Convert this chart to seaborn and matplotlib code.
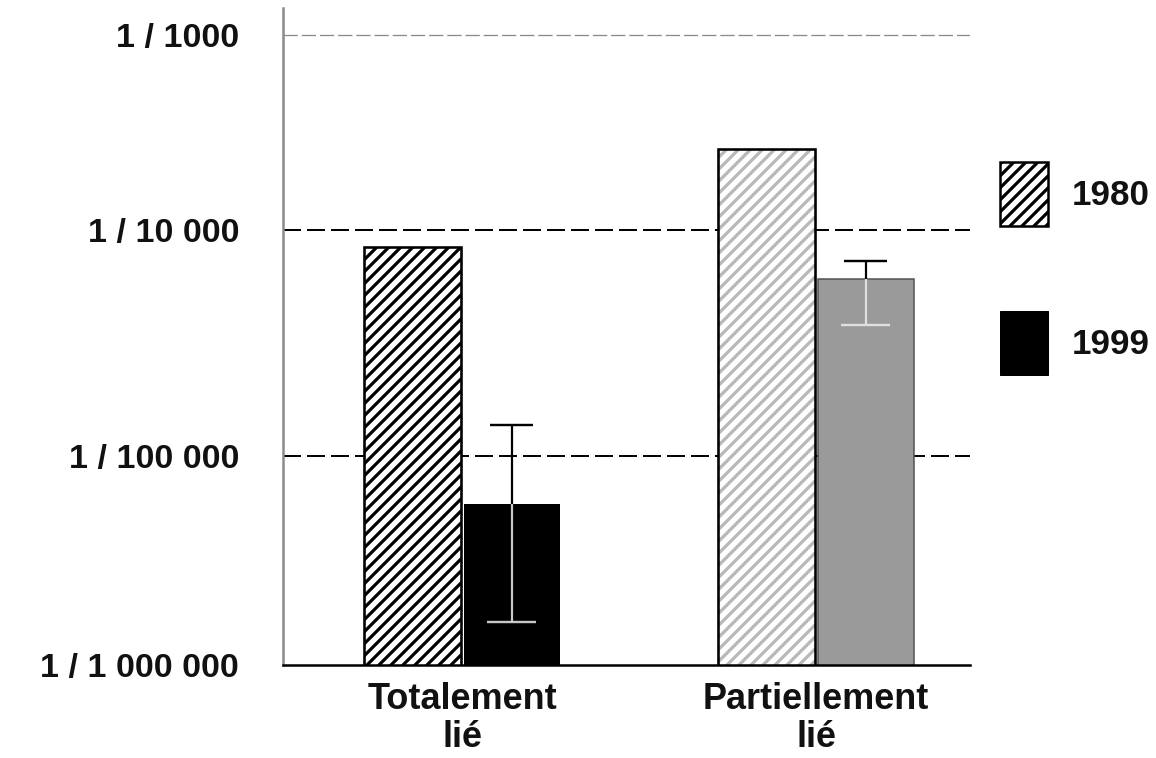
import numpy as np
import pandas as pd
import matplotlib
matplotlib.use("Agg")
import matplotlib.pyplot as plt
import seaborn as sns
from matplotlib.patches import Rectangle, Patch

# Incidence data
categories = ["Totalement\nlié", "Partiellement\nlié"]
years = ["1980", "1999"]
rate_1980 = [8.4e-5, 2.6e-4]
rate_1999 = [5.9e-6, 6.1e-5]
low_1999 = [1.6e-6, 3.8e-5]
high_1999 = [1.37e-5, 7.3e-5]
tick_values = [1e-6, 1e-5, 1e-4, 1e-3]
tick_labels = ["1 / 1 000 000", "1 / 100 000", "1 / 10 000", "1 / 1000"]

sns.set_theme(style="white")
plt.rcParams["font.family"] = ["Liberation Sans", "DejaVu Sans"]
plt.rcParams["font.weight"] = "bold"
plt.rcParams["text.color"] = "#111111"
plt.rcParams["hatch.linewidth"] = 3.2

HATCH_LW = 3.2

df = pd.DataFrame({
    "cat": categories * 2,
    "year": [years[0]] * len(categories) + [years[1]] * len(categories),
    "rate": rate_1980 + rate_1999,
})

W, H = 1156, 758
fig = plt.figure(figsize=(W / 72, H / 72), dpi=72)
ax = fig.add_axes([283 / W, 1 - 665 / H, (970 - 283) / W, (665 - 8) / H])

sns.barplot(data=df, x="cat", y="rate", hue="year", order=categories,
            hue_order=years, width=0.56, gap=0.03, errorbar=None,
            legend=False, ax=ax)

# Decades are not evenly spaced on this axis: piecewise log scale
log_knots = np.array([-7, -6, -5, -4, -3, -2], dtype=float)
px_knots = np.array([-209, 0, 209, 435, 630, 825], dtype=float)


def fwd(y):
    y = np.asarray(y, dtype=float)
    return np.interp(np.log10(np.clip(y, 1e-12, None)), log_knots, px_knots)


def inv(p):
    return 10 ** np.interp(np.asarray(p, dtype=float), px_knots, log_knots)


ax.set_yscale("function", functions=(fwd, inv))
ax.set_ylim(tick_values[0], float(inv(657)))
ax.set_xlim(-0.506, 1.435)


def set_hatch_width(patch):
    if hasattr(patch, "set_hatch_linewidth"):
        patch.set_hatch_linewidth(HATCH_LW)


# Bar styles: (face, hatch, hatch colour, outline)
styles = {
    (0, "1980"): ("white", "//", "black", "black"),
    (1, "1980"): ("white", "//", "#b8b8b8", "black"),
    (0, "1999"): ("black", "", "black", None),
    (1, "1999"): ("#9a9a9a", "", "#9a9a9a", "#505050"),
}
centers_1999 = {}
for p in list(ax.patches):
    xc = p.get_x() + p.get_width() / 2
    ci = int(round(xc))
    yr = "1980" if xc < ci else "1999"
    face, hatch, hcol, outline = styles[(ci, yr)]
    p.set_facecolor(face)
    p.set_hatch(hatch if hatch else None)
    set_hatch_width(p)
    p.set_edgecolor(hcol)
    p.set_linewidth(0)
    p.set_zorder(2)
    if outline is not None:
        ax.add_patch(Rectangle((p.get_x(), p.get_y()), p.get_width(),
                               p.get_height(), fill=False, edgecolor=outline,
                               linewidth=2.6 if yr == "1980" else 1.5,
                               zorder=2.1))
    if yr == "1999":
        centers_1999[ci] = xc

# Error bars for 1999: dark above the bar top, light inside the bar
light = {0: "#c8c8c8", 1: "#e0e0e0"}
for i in range(len(categories)):
    xc = centers_1999[i]
    ax.vlines(xc, rate_1999[i], high_1999[i], color="black", lw=2.2, zorder=3)
    ax.hlines(high_1999[i], xc - 0.06, xc + 0.06, color="black", lw=2.4, zorder=3)
    ax.vlines(xc, low_1999[i], rate_1999[i], color=light[i], lw=2.2, zorder=3)
    ax.hlines(low_1999[i], xc - 0.07, xc + 0.07, color=light[i], lw=2.4, zorder=3)

# Reference lines
for v in tick_values[1:3]:
    ax.axhline(v, color="black", lw=2, dashes=(9, 3), zorder=0.5)
ax.axhline(tick_values[3], color="#8a8a8a", lw=1.3, dashes=(11, 3), zorder=0.5)

ax.set_yticks(tick_values, tick_labels)
ax.tick_params(axis="y", length=0, pad=44, labelsize=34, labelcolor="#111111")
ax.tick_params(axis="x", length=0, pad=17, labelsize=36, labelcolor="#111111")
for lab in ax.get_xticklabels():
    lab.set_linespacing(1.1)
ax.set_xlabel("")
ax.set_ylabel("")

for s in ("top", "right"):
    ax.spines[s].set_visible(False)
ax.spines["left"].set_color("#8a8a8a")
ax.spines["left"].set_linewidth(2.5)
ax.spines["bottom"].set_color("black")
ax.spines["bottom"].set_linewidth(2.5)

handles = [
    Patch(facecolor="white", edgecolor="black", hatch="//", linewidth=2.5),
    Patch(facecolor="black", edgecolor="black", linewidth=1),
]
set_hatch_width(handles[0])
fig.legend(handles, years, loc="upper left",
           bbox_to_anchor=(1000 / W, 1 - 162 / H), frameon=False,
           fontsize=35, handlelength=1.37, handleheight=2.45,
           handletextpad=0.68, labelspacing=2.42, borderpad=0,
           borderaxespad=0, labelcolor="#111111")

fig.savefig("out.png", dpi=72, facecolor="white")
